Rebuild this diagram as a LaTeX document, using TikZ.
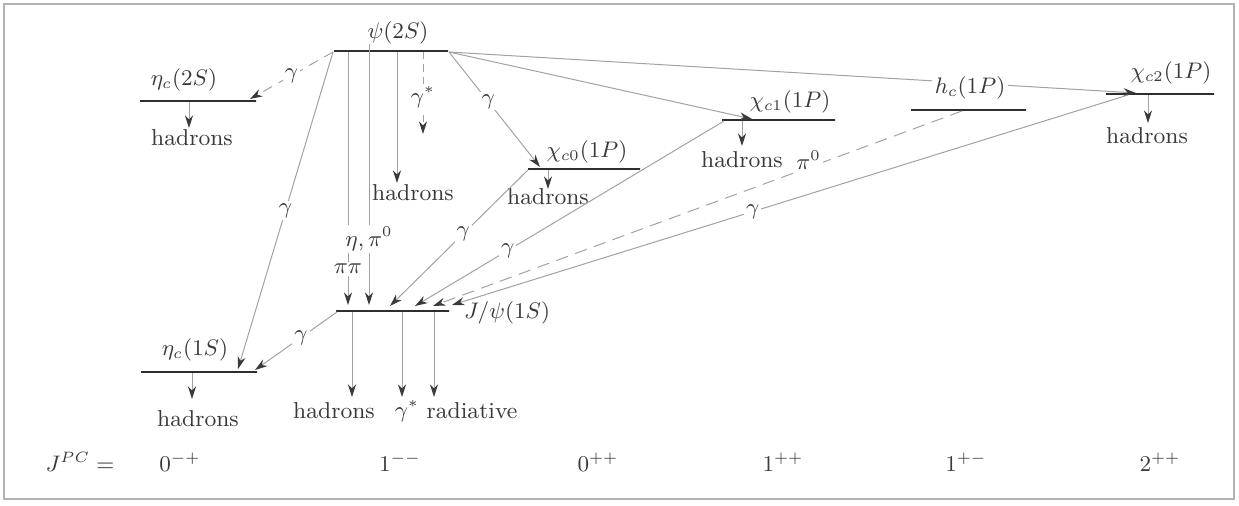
\documentclass[tikz,border=0pt]{standalone}
\usetikzlibrary{arrows.meta,calc}
\definecolor{lvl}{HTML}{2E2E2E}
\definecolor{trn}{HTML}{A2A2A2}
\definecolor{txt}{HTML}{3A3A3A}
\definecolor{tip}{HTML}{3A3A3A}
\begin{document}
\begin{tikzpicture}[x=0.4pt,y=-0.4pt,
  every node/.style={font=\fontsize{9.2}{11}\selectfont, text=txt},
  level/.style={draw=lvl, line width=1pt, inner sep=0pt, minimum height=0pt, minimum width=#1},
  tr/.style={draw=trn, line width=0.4pt},
  arr/.style={tr, -{Stealth[length=5pt,width=3.2pt,inset=1.6pt,color=tip]}},
  lab/.style={fill=white, inner sep=0.8pt},
  txtnode/.style={inner sep=1pt}
]
\useasboundingbox (0,0) rectangle (1239,506);
\draw[draw=gray!60, line width=0.6pt] (4,4) rectangle (1234,499);

% levels
\node[level=45.6pt] (psi2S) at (391,51) {};
\node[level=46.4pt] (etac2S) at (198,101) {};
\node[level=44.8pt] (chic0) at (584,169) {};
\node[level=45.2pt] (chic1) at (778.5,120) {};
\node[level=46pt] (hc) at (968.5,110) {};
\node[level=43.2pt] (chic2) at (1160,94) {};
\node[level=45.2pt] (jpsi) at (392.5,311) {};
\node[level=46.4pt] (etac1S) at (199,372) {};

% named endpoints
\coordinate (pL) at (333,52);
\coordinate (pR) at (449,52);
\coordinate (pA) at (348,52);
\coordinate (pB) at (369,44);
\coordinate (pC) at (397,52);
\coordinate (pD) at (423,52);
\coordinate (e2tip) at (250,99);
\coordinate (e1tipA) at (238,369);
\coordinate (e1tipB) at (255,370);
\coordinate (c0tip) at (540,167);
\coordinate (c1tip) at (752,119);
\coordinate (c2tip) at (1136,93);
\coordinate (jA) at (348,305);
\coordinate (jB) at (369,305);
\coordinate (jC) at (390,306);
\coordinate (jD) at (415,306);
\coordinate (jE) at (433,306);
\coordinate (jF) at (452,305);
\coordinate (c0s) at (528,170);
\coordinate (c1s) at (724,121);
\coordinate (hcs) at (962,111);
\coordinate (c2s) at (1128,95);
\coordinate (jL) at (337,312);
\coordinate (hadPtip) at (397,183);
\coordinate (gstip) at (423,134);

% decay products
\node[txtnode] (hE2) at (192,138) {hadrons};
\node[txtnode] (hE1) at (198,419) {hadrons};
\node[txtnode] (hP) at (413,193) {hadrons};
\node[txtnode] (hC0) at (548,197) {hadrons};
\node[txtnode] (hC1) at (742,160) {hadrons};
\node[txtnode] (hC2) at (1147,136) {hadrons};
\node[txtnode] (hJ) at (334,411) {hadrons};
\node[txtnode] (gJ) at (407,411) {$\gamma^*$};
\node[txtnode] (rJ) at (472,411) {radiative};

% transitions
\draw[arr,dashed,dash pattern=on 4pt off 3pt] (pL) -- node[lab,pos=0.5]{$\gamma$} (e2tip);
\draw[arr] (pL) -- node[lab,pos=0.5]{$\gamma$} (e1tipA);
\draw[arr] (pA) -- node[lab,pos=0.857]{$\pi\pi$} (jA);
\draw[arr] (pB) -- node[lab,pos=0.746]{$\eta,\pi^0$} (jB);
\draw[arr] (pC) -- (hadPtip);
\draw[arr,dashed,dash pattern=on 3pt off 2pt] (pD) -- node[lab,pos=0.55]{$\gamma^*$} (gstip);
\draw[arr] (pR) -- node[lab,pos=0.43]{$\gamma$} (c0tip);
\draw[arr] (pR) -- (c1tip);
\draw[arr] (pR) -- (c2tip);
\draw[arr] (c0s) -- node[lab,pos=0.47]{$\gamma$} (jC);
\draw[arr] (c1s) -- node[lab,pos=0.7]{$\gamma$} (jD);
\draw[arr,dashed,dash pattern=on 5pt off 3pt] (hcs) -- node[lab,pos=0.29,yshift=3pt]{$\pi^0$} (jE);
\draw[arr] (c2s) -- node[lab,pos=0.555]{$\gamma$} (jF);
\draw[arr] (jL) -- node[lab,pos=0.44]{$\gamma$} (e1tipB);

% decays to hadrons
\draw[arr] (189,102) -- (189,128);
\draw[arr] (192,373) -- (192,399);
\draw[arr] (548,170) -- (548,189);
\draw[arr] (742,121) -- (742,146);
\draw[arr] (1148,95) -- (1148,123);
\draw[arr] (352,312) -- (352,397);
\draw[arr] (402,312) -- (402,397);
\draw[arr] (434,312) -- (434,397);

% level labels
\node[txtnode] (lpsi) at (398,33) {$\psi(2S)$};
\node[txtnode] (le2) at (184,80) {$\eta_c(2S)$};
\node[txtnode] (lc0) at (587,152) {$\chi_{c0}(1P)$};
\node[txtnode] (lc1) at (790,102) {$\chi_{c1}(1P)$};
\node[txtnode,fill=white] (lhc) at (970,88) {$h_c(1P)$};
\node[txtnode] (lc2) at (1171,73) {$\chi_{c2}(1P)$};
\node[txtnode,anchor=west] (lj) at (461,313) {$J/\psi(1S)$};
\node[txtnode] (le1) at (195,350) {$\eta_c(1S)$};

% J^PC row
\node[txtnode] (jpc) at (80,462) {$J^{PC}=$};
\node[txtnode] (q1) at (180,462) {$0^{-+}$};
\node[txtnode] (q2) at (400,462) {$1^{--}$};
\node[txtnode] (q3) at (598,462) {$0^{++}$};
\node[txtnode] (q4) at (783,462) {$1^{++}$};
\node[txtnode] (q5) at (966,462) {$1^{+-}$};
\node[txtnode] (q6) at (1160,462) {$2^{++}$};
\end{tikzpicture}
\end{document}
